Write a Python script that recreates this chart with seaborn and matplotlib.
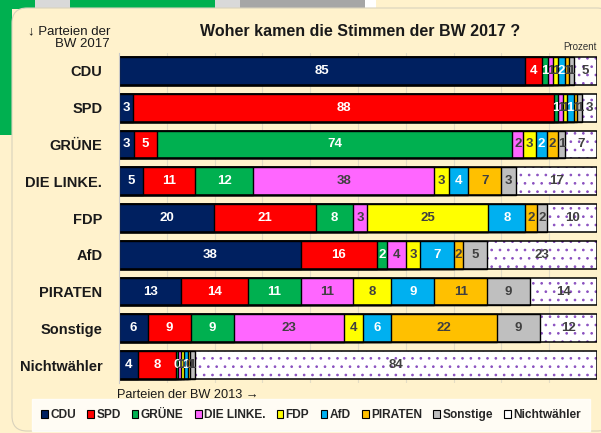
import numpy as np
import pandas as pd
import matplotlib.pyplot as plt
import seaborn as sns
from matplotlib.patches import Patch, Rectangle, FancyBboxPatch

# rows: party in 2017, segments: where the votes came from (party in 2013)
rows = ["CDU", "SPD", "GRÜNE", "DIE LINKE.", "FDP", "AfD", "PIRATEN", "Sonstige", "Nichtwähler"]
sources = ["CDU", "SPD", "GRÜNE", "DIE LINKE.", "FDP", "AfD", "PIRATEN", "Sonstige", "Nichtwähler"]

# percentages per row, in order of sources
cdu_2017 = [84.9, 3.6, 1.3, 1.0, 1.0, 1.6, 0.7, 1.0, 4.9]
spd_2017 = [3.0, 88.0, 0.9, 1.0, 0.8, 1.4, 0.8, 1.0, 3.1]
gruene_2017 = [3.1, 4.8, 74.4, 2.3, 2.6, 2.3, 2.4, 1.4, 6.7]
linke_2017 = [5, 11, 12, 38, 3, 4, 7, 3, 17]
fdp_2017 = [19.9, 21.4, 7.6, 3.0, 25.4, 7.7, 2.4, 2.2, 10.4]
afd_2017 = [38, 16, 2, 4, 3, 7, 2, 5, 23]
piraten_2017 = [13, 14, 11, 11, 8, 9, 11, 9, 14]
sonstige_2017 = [6, 9, 9, 23, 4, 6, 22, 9, 12]
nichtwaehler_2017 = [4.0, 7.9, 0.5, 0.6, 0.6, 0.8, 0.4, 1.0, 84.2]

colors = ["#002060", "#FF0000", "#00B050", "#FF66FF", "#FFFF00",
          "#00B0F0", "#FFC000", "#BFBFBF", "#FFFFFF"]
text_colors = ["white", "white", "white", "#404040", "#404040",
               "white", "#404040", "#404040", "#404040"]

cream = "#FFF2CC"
dot_color = "#8A50C0"

df = pd.DataFrame([cdu_2017, spd_2017, gruene_2017, linke_2017, fdp_2017,
                   afd_2017, piraten_2017, sonstige_2017, nichtwaehler_2017],
                  columns=sources)
df.insert(0, "row", rows)
cum = df[sources].cumsum(axis=1)
cum.insert(0, "row", rows)

sns.set_style("white")
plt.rcParams["font.family"] = ["Liberation Sans", "DejaVu Sans"]
plt.rcParams["hatch.color"] = dot_color
plt.rcParams["hatch.linewidth"] = 0.7

fig = plt.figure(figsize=(6.01, 4.33), dpi=100, facecolor=cream)

# slide background bits
W, H = 601, 433
def frect(x0, y0, x1, y1, c):
    fig.patches.append(Rectangle((x0 / W, 1 - y1 / H), (x1 - x0) / W, (y1 - y0) / H,
                                 transform=fig.transFigure, color=c, zorder=-10, lw=0))
frect(0, 0, 215, 9, "#00B050")
frect(35, 0, 70, 9, "#D9D9D9")
frect(215, 0, 240, 9, "#D9D9D9")
frect(240, 0, 365, 9, "#A6A6A6")
frect(365, 0, 376, 9, "white")
frect(0, 0, 12, 135, "#00B050")
fig.patches.append(FancyBboxPatch((12 / W, 1 - 431 / H), 600 / W, (431 - 8) / H,
                                  boxstyle="round,pad=0,rounding_size=0.025",
                                  transform=fig.transFigure, facecolor=cream,
                                  edgecolor="#D9D2BC", lw=0.8, zorder=-9,
                                  mutation_aspect=W / H))

ax = fig.add_axes([119 / W, 1 - 383.4 / H, 478 / W, (383.4 - 52.6) / H])
ax.set_facecolor(cream)

bar_w = 0.76
# stacked bars: draw cumulative ends from the last segment to the first
for j in reversed(range(len(sources))):
    col = sources[j]
    if col == "Nichtwähler":
        sns.barplot(data=cum, x=col, y="row", order=rows, orient="h", color="white",
                    saturation=1, width=bar_w, edgecolor=dot_color, linewidth=0,
                    hatch="..", errorbar=None, ax=ax)
    else:
        sns.barplot(data=cum, x=col, y="row", order=rows, orient="h", color=colors[j],
                    saturation=1, width=bar_w, edgecolor="black", linewidth=1,
                    errorbar=None, ax=ax)
# outline of whole bar
sns.barplot(data=cum, x="Nichtwähler", y="row", order=rows, orient="h", fill=False,
            width=bar_w, edgecolor="black", linewidth=1.1, errorbar=None, ax=ax)

# value labels
for i, r in enumerate(rows):
    left = 0.0
    for j, col in enumerate(sources):
        v = df.loc[i, col]
        ax.text(left + v / 2, i, f"{v:.0f}", ha="center", va="center",
                color=text_colors[j], fontsize=9.5, fontweight="bold", zorder=5)
        left += v

ax.set_xlim(0, 100)
ax.set_ylim(8.5, -0.5)
ax.set_xticks(np.arange(0, 101, 10))
ax.set_xticklabels([])
ax.tick_params(axis="both", length=0)
ax.tick_params(axis="y", pad=12)
for lab in ax.get_yticklabels():
    lab.set_fontweight("bold")
    lab.set_fontsize(10.5)
    lab.set_color("#1A1A1A")
ax.set_xlabel("")
ax.set_ylabel("")
ax.grid(axis="x", color="#E3DCC4", lw=0.8)
ax.set_axisbelow(True)
for s in ["top", "right", "bottom"]:
    ax.spines[s].set_visible(False)
ax.spines["left"].set_color("#C8C8C8")
ax.spines["left"].set_linewidth(0.8)

fig.text(360 / W, 1 - 31 / H, "Woher kamen die Stimmen der BW 2017 ?", ha="center",
         va="center", fontsize=11.5, fontweight="bold", color="#1A1A1A")
fig.text(597 / W, 1 - 47 / H, "Prozent", ha="right", va="center", fontsize=7,
         color="#333333")
fig.text(110 / W, 1 - 38 / H, "↓ Parteien der\nBW 2017", ha="right", va="center",
         fontsize=9.5, color="#1A1A1A", linespacing=1.05,
         family=["Liberation Sans", "DejaVu Sans"])
fig.text(117 / W, 1 - 395 / H, "Parteien der BW 2013 →", ha="left", va="center",
         fontsize=9.2, color="#1A1A1A", family=["Liberation Sans", "DejaVu Sans"])

handles = [Patch(facecolor=c, edgecolor="black", lw=0.8) for c in colors]
leg = fig.legend(handles, sources, loc="center", ncol=9,
                 bbox_to_anchor=(311 / W, 1 - 415 / H), frameon=True,
                 prop={"weight": "bold", "size": 8.6}, handlelength=0.55,
                 handleheight=0.7, handletextpad=0.2, columnspacing=0.95,
                 borderpad=0.8, borderaxespad=0, fancybox=False)
leg.get_frame().set_facecolor("white")
leg.get_frame().set_edgecolor("white")

fig.savefig("out.png", dpi=100, facecolor=cream)
